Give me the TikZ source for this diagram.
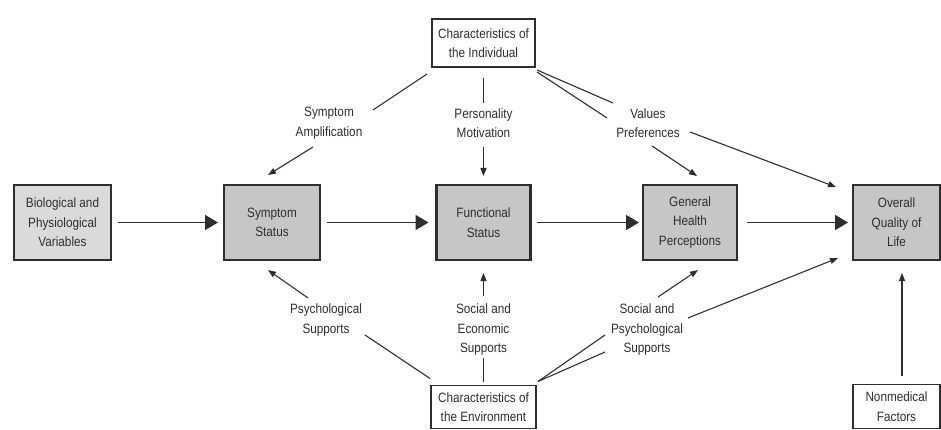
\documentclass[tikz,border=0pt]{standalone}
\usepackage{fontspec}
\setmainfont{Liberation Sans}[FakeStretch=0.87]
\usetikzlibrary{arrows.meta,calc}
\definecolor{ink}{HTML}{2E2E2E}
\definecolor{boxgray}{HTML}{C6C6C6}
\definecolor{biogray}{HTML}{DADADA}
\begin{document}
\begin{tikzpicture}[x=1pt,y=-1pt,
  every node/.style={font=\fontsize{13.5}{19.5}\selectfont, text=ink, align=center, inner sep=0pt, outer sep=0pt},
  mainbox/.style={draw=ink, line width=2.2pt, fill=boxgray, minimum height=75pt},
  thinbox/.style={draw=ink, line width=1.3pt, fill=white},
  lbl/.style={},
  bigarrow/.style={draw=ink, line width=1.8pt, -{Triangle[length=13pt,width=15pt]}},
  thinline/.style={draw=ink, line width=1.1pt},
  thinarrow/.style={draw=ink, line width=1.1pt, -{Triangle[length=8pt,width=6pt]}}
]
\useasboundingbox (0,0) rectangle (941,430);
\fill[white] (0,0) rectangle (941,430);

% boxes
\node[mainbox, fill=biogray, minimum width=97pt] (bio) at (62.5,222.5) {Biological and\\Physiological\\Variables};
\node[mainbox, minimum width=96pt] (sym) at (272,222.5) {Symptom\\Status};
\node[mainbox, minimum width=94pt] (fun) at (483.5,222.5) {Functional\\Status};
\node[mainbox, minimum width=94pt] (ghp) at (690,222.5) {General\\Health\\Perceptions};
\node[mainbox, minimum width=87pt] (qol) at (896.5,222.5) {Overall\\Quality of\\Life};

\node[thinbox, minimum width=103pt, minimum height=48pt] (ci) at (483.5,43) {Characteristics of\\the Individual};
\node[thinbox, minimum width=105pt, minimum height=43pt] (env) at (483.5,407) {Characteristics of\\the Environment};
\node[thinbox, minimum width=87pt, minimum height=44pt] (nm) at (896.5,406.5) {Nonmedical\\Factors};

% labels
\node[lbl] (sa) at (329,123) {Symptom\\Amplification};
\node[lbl] (pm) at (483.5,123) {Personality\\Motivation};
\node[lbl] (vp) at (648,123) {Values\\Preferences};
\node[lbl] (ps) at (326,320) {Psychological\\Supports};
\node[lbl] (se) at (483.5,330) {Social and\\Economic\\Supports};
\node[lbl] (sp) at (647,330) {Social and\\Psychological\\Supports};

% main chain
\draw[bigarrow] ($(bio.east)+(7,0)$) -- ($(sym.west)+(-6,0)$);
\draw[bigarrow] ($(sym.east)+(7,0)$) -- ($(fun.west)+(-8,0)$);
\draw[bigarrow] ($(fun.east)+(6,0)$) -- ($(ghp.west)+(-4,0)$);
\draw[bigarrow] ($(ghp.east)+(10,0)$) -- ($(qol.west)+(-5,0)$);

% from characteristics of the individual
\draw[thinline] ($(ci.south west)+(-5,7)$) -- ($(sa)+(44,-13)$);
\draw[thinarrow] ($(sa)+(-16,24)$) -- ($(sym.north)+(-4,-10)$);
\draw[thinline] ($(ci.south)+(0,11)$) -- ($(pm)+(0,-20)$);
\draw[thinarrow] ($(pm)+(0,24)$) -- ($(fun.north)+(0,-9)$);
\draw[thinline] ($(ci.south east)+(2,3)$) -- ($(vp)+(-35,-20)$);
\draw[thinline] ($(ci.south east)+(2,5)$) -- ($(vp)+(-41,-5)$);
\draw[thinarrow] ($(vp)+(4,23)$) -- ($(ghp.north)+(7,-9)$);
\draw[thinarrow] ($(vp)+(42,9)$) -- ($(qol.north west)+(-17,2)$);

% from characteristics of the environment
\draw[thinarrow] ($(ps)+(-18,-22)$) -- ($(sym.south)+(-4,10)$);
\draw[thinline] ($(ps)+(39,15)$) -- ($(env.north west)+(-1,-7)$);
\draw[thinarrow] ($(se)+(0,-34)$) -- ($(fun.south)+(0,13)$);
\draw[thinline] ($(env.north)+(0,-4)$) -- ($(se)+(0,28)$);
\draw[thinline] ($(env.north east)+(2,-4)$) -- ($(sp)+(-42,5)$);
\draw[thinline] ($(env.north east)+(2,-4)$) -- ($(sp)+(-42,22)$);
\draw[thinarrow] ($(sp)+(11,-33)$) -- ($(ghp.south)+(8,10)$);
\draw[thinarrow] ($(sp)+(41,-12)$) -- ($(qol.south west)+(-15,-2)$);

% nonmedical factors
\draw[thinarrow] ($(nm.north)+(5.5,-9)$) -- ($(qol.south)+(5.5,13)$);
\end{tikzpicture}
\end{document}
